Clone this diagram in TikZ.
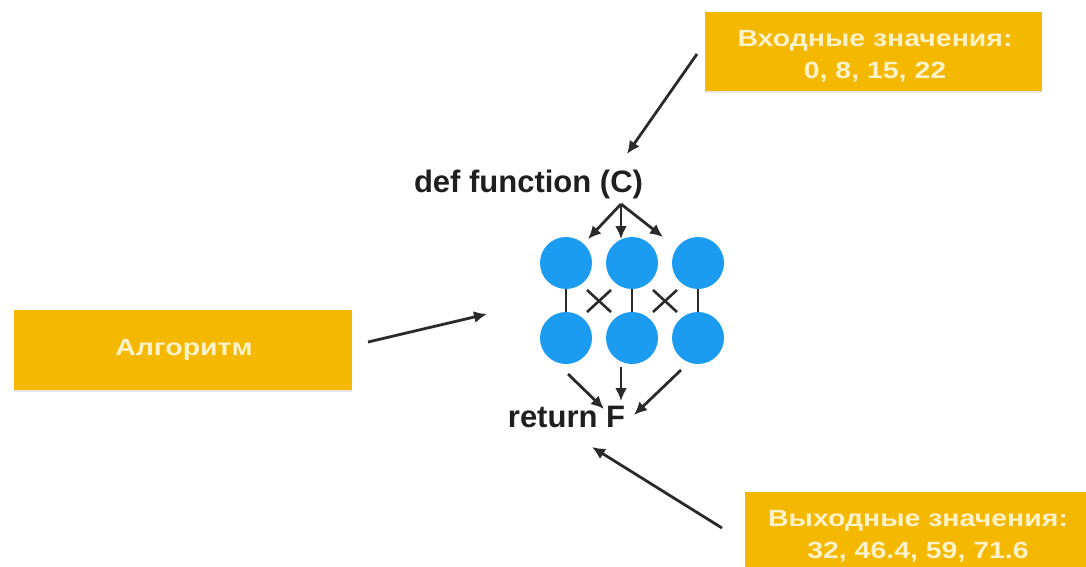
\documentclass[tikz,border=0pt]{standalone}
\usepackage{fontspec}
\setmainfont{Liberation Sans}
\newfontfamily\boxfont[FakeStretch=1.21]{Liberation Sans Bold}
\usetikzlibrary{arrows.meta,shadows}
\definecolor{boxyellow}{HTML}{F5B800}
\definecolor{boxtext}{HTML}{FFF2C8}
\definecolor{nodeblue}{HTML}{1B9CF0}
\definecolor{linegray}{HTML}{2A2A2A}
\tikzset{
  ybox/.style={fill=boxyellow, draw=none, drop shadow={shadow xshift=0pt, shadow yshift=-2pt, opacity=0.2}},
  btext/.style={text=boxtext, font=\boxfont\fontsize{23.5}{32}\selectfont, align=center},
  neuron/.style={circle, fill=nodeblue, draw=none, minimum size=52pt, inner sep=0pt},
  arr/.style={draw=linegray, line width=2.8pt, -{Latex[length=13pt,width=12pt]}},
  link/.style={draw=linegray, line width=2.6pt},
  code/.style={font=\bfseries\fontsize{31}{36}\selectfont, text=black!88}
}
\begin{document}
\begin{tikzpicture}[x=1pt,y=-1pt]
\useasboundingbox (0,0) rectangle (1086,567);
\begin{scope}
\clip (0,0) rectangle (1086,567);
% boxes
\fill[ybox] (705,12) rectangle (1042,91);
\node[btext] (inbox) at (875,56) {Входные значения:\\0, 8, 15, 22};
\fill[ybox] (14,310) rectangle (352,390);
\node[btext] (algo) at (184,350) {Алгоритм};
\fill[ybox] (745,492) rectangle (1100,600);
\node[btext] (outbox) at (918,536) {Выходные значения:\\32, 46.4, 59, 71.6};
\end{scope}
% code texts
\node[code] (def) at (528.5,184) {def function (C)};
\node[code] (ret) at (566.5,417) {return F};
% neurons
\node[neuron] (a1) at (566,263) {};
\node[neuron] (a2) at (632,263) {};
\node[neuron] (a3) at (698,263) {};
\node[neuron] (b1) at (566,338) {};
\node[neuron] (b2) at (632,338) {};
\node[neuron] (b3) at (698,338) {};
% vertical links
\draw[link] (a1) -- (b1);
\draw[link] (a2) -- (b2);
\draw[link] (a3) -- (b3);
% crosses
\coordinate (x1) at (599,301);
\coordinate (x2) at (665,301);
\draw[link] ([shift={(-12,-11)}]x1) -- ([shift={(12,11)}]x1);
\draw[link] ([shift={(-12,11)}]x1) -- ([shift={(12,-11)}]x1);
\draw[link] ([shift={(-12,-11)}]x2) -- ([shift={(12,11)}]x2);
\draw[link] ([shift={(-12,11)}]x2) -- ([shift={(12,-11)}]x2);
% arrows from def
\coordinate (apex) at (621,204);
\coordinate (t1) at (588,239);
\coordinate (t2) at (621,239);
\coordinate (t3) at (663,237);
\draw[arr] (apex) -- (t1);
\draw[arr] (apex) -- (t2);
\draw[arr] (apex) -- (t3);
% arrows to return
\coordinate (s1) at (568,374);
\coordinate (s2) at (621,367);
\coordinate (s3) at (681,370);
\coordinate (e1) at (604,409);
\coordinate (e2) at (621,401);
\coordinate (e3) at (634,415);
\draw[arr] (s1) -- (e1);
\draw[arr] (s2) -- (e2);
\draw[arr] (s3) -- (e3);
% outer arrows
\coordinate (inS) at (697,54);
\coordinate (inE) at (627,154);
\draw[arr] (inS) -- (inE);
\coordinate (alS) at (368,342);
\coordinate (alE) at (487,314);
\draw[arr] (alS) -- (alE);
\coordinate (outS) at (722,528);
\coordinate (outE) at (592,447);
\draw[arr] (outS) -- (outE);
\end{tikzpicture}
\end{document}
